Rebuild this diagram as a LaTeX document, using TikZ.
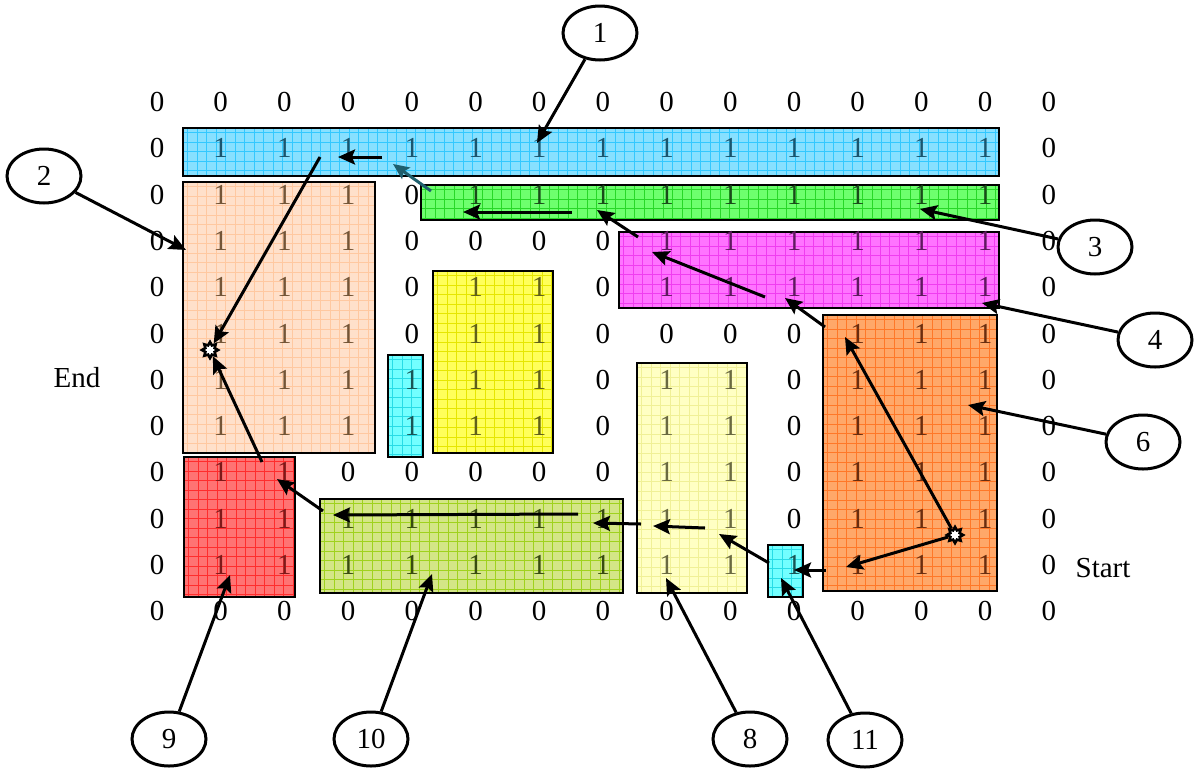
\documentclass[tikz,border=0pt]{standalone}
\usepackage{fontspec}
\setmainfont{Liberation Serif}
\usetikzlibrary{shapes.geometric,arrows.meta}
\definecolor{bluefill}{RGB}{135,224,255}\definecolor{bluegrid}{RGB}{50,200,255}\definecolor{bluetext}{RGB}{25,85,110}
\definecolor{greenfill}{RGB}{110,255,110}\definecolor{greengrid}{RGB}{40,215,40}\definecolor{greentext}{RGB}{25,75,25}
\definecolor{magfill}{RGB}{255,115,255}\definecolor{maggrid}{RGB}{240,60,240}\definecolor{magtext}{RGB}{95,25,95}
\definecolor{peachfill}{RGB}{255,224,202}\definecolor{peachgrid}{RGB}{255,200,160}\definecolor{peachtext}{RGB}{115,85,55}
\definecolor{yelfill}{RGB}{255,255,90}\definecolor{yelgrid}{RGB}{230,230,0}\definecolor{yeltext}{RGB}{95,95,25}
\definecolor{cyanfill}{RGB}{115,255,255}\definecolor{cyangrid}{RGB}{40,220,230}\definecolor{cyantext}{RGB}{25,85,85}
\definecolor{orfill}{RGB}{255,168,105}\definecolor{orgrid}{RGB}{255,120,40}\definecolor{ortext}{RGB}{105,45,15}
\definecolor{lyfill}{RGB}{255,255,195}\definecolor{lygrid}{RGB}{240,240,150}\definecolor{lytext}{RGB}{105,105,65}
\definecolor{redfill}{RGB}{255,115,115}\definecolor{redgrid}{RGB}{255,45,45}\definecolor{redtext}{RGB}{125,25,25}
\definecolor{olfill}{RGB}{212,230,135}\definecolor{olgrid}{RGB}{160,210,30}\definecolor{oltext}{RGB}{55,75,15}
\definecolor{tealarrow}{RGB}{30,95,110}
\tikzset{
 dig/.style={inner sep=0pt, font=\fontsize{29}{30}\selectfont},
 pbox/.style 2 args={draw=black, line width=2.5pt, fill=#1, inner sep=0pt, outer sep=0pt,
   path picture={
   \foreach \gx in {4.75,14.25,...,900} \draw[#2, line width=0.6pt] ([xshift=\gx pt]path picture bounding box.north west) -- ([xshift=\gx pt]path picture bounding box.south west);
   \foreach \gy in {4.75,14.25,...,300} \draw[#2, line width=0.6pt] ([yshift=-\gy pt]path picture bounding box.north west) -- ([yshift=-\gy pt]path picture bounding box.north east);
 }},
 arr/.style={line width=3pt, -{Stealth[length=17pt,width=15pt,inset=3pt]}},
 lead/.style={line width=3pt, -{Stealth[length=17pt,width=15pt,inset=3pt]}},
 circ/.style={ellipse, draw, line width=3pt, minimum width=74pt, minimum height=54pt, inner sep=0pt, font=\fontsize{29}{30}\selectfont},
 starmark/.style={star, star points=8, star point ratio=1.6, minimum size=16pt, inner sep=0pt, fill=white, draw=black, line width=2.6pt},
}
\begin{document}
\begin{tikzpicture}[x=1pt,y=-1pt]
\useasboundingbox (0,0) rectangle (1196,769);
% boxes
\node[pbox={bluefill}{bluegrid}, minimum width=816pt, minimum height=48pt] (b1) at (591,152) {};
\node[pbox={peachfill}{peachgrid}, minimum width=192pt, minimum height=271pt] (b2) at (279,317.5) {};
\node[pbox={greenfill}{greengrid}, minimum width=578pt, minimum height=35pt] (b3) at (710,202.5) {};
\node[pbox={magfill}{maggrid}, minimum width=380pt, minimum height=76pt] (b4) at (809,270) {};
\node[pbox={yelfill}{yelgrid}, minimum width=120pt, minimum height=182pt] (b5) at (493,362) {};
\node[pbox={cyanfill}{cyangrid}, minimum width=35pt, minimum height=102pt] (b7) at (405.5,406) {};
\node[pbox={orfill}{orgrid}, minimum width=174pt, minimum height=276pt] (b6) at (910,453) {};
\node[pbox={lyfill}{lygrid}, minimum width=110pt, minimum height=230pt] (b8) at (692,478) {};
\node[pbox={redfill}{redgrid}, minimum width=111pt, minimum height=140pt] (b9) at (239.5,527) {};
\node[pbox={olfill}{olgrid}, minimum width=303pt, minimum height=94pt] (b10) at (471.5,546) {};
\node[pbox={cyanfill}{cyangrid}, minimum width=35pt, minimum height=52pt] (b11) at (785.5,571) {};
% zeros
\foreach \r in {0,11} \foreach \c in {0,...,14}
  \node[dig] (z-\c-\r) at ({157+63.7*\c},{102+46.3*\r}) {0};
\foreach \c/\r in {0/1,14/1,0/2,4/2,14/2,0/3,4/3,5/3,6/3,7/3,14/3,0/4,4/4,7/4,14/4,
  0/5,4/5,7/5,8/5,9/5,10/5,14/5,0/6,7/6,10/6,14/6,0/7,7/7,10/7,14/7,
  0/8,3/8,4/8,5/8,6/8,7/8,10/8,14/8,0/9,10/9,14/9,0/10,14/10}
  \node[dig] (z-\c-\r) at ({157+63.7*\c},{102+46.3*\r}) {0};
% ones
\foreach \c in {1,...,13} \node[dig,text=bluetext] (o-\c-1) at ({157+63.7*\c},{102+46.3}) {1};
\foreach \c in {1,...,3} \foreach \r in {2,...,7} \node[dig,text=peachtext] (o-\c-\r) at ({157+63.7*\c},{102+46.3*\r}) {1};
\foreach \c in {5,...,13} \node[dig,text=greentext] (o-\c-2) at ({157+63.7*\c},{102+46.3*2}) {1};
\foreach \c in {8,...,13} \foreach \r in {3,4} \node[dig,text=magtext] (o-\c-\r) at ({157+63.7*\c},{102+46.3*\r}) {1};
\foreach \c in {5,6} \foreach \r in {4,...,7} \node[dig,text=yeltext] (o-\c-\r) at ({157+63.7*\c},{102+46.3*\r}) {1};
\foreach \r in {6,7} \node[dig,text=cyantext] (o-4-\r) at ({157+63.7*4},{102+46.3*\r}) {1};
\foreach \c in {11,...,13} \foreach \r in {5,...,10} \node[dig,text=ortext] (o-\c-\r) at ({157+63.7*\c},{102+46.3*\r}) {1};
\foreach \c in {8,9} \foreach \r in {6,...,10} \node[dig,text=lytext] (o-\c-\r) at ({157+63.7*\c},{102+46.3*\r}) {1};
\foreach \c in {1,2} \foreach \r in {8,...,10} \node[dig,text=redtext] (o-\c-\r) at ({157+63.7*\c},{102+46.3*\r}) {1};
\foreach \c in {3,...,7} \foreach \r in {9,10} \node[dig,text=oltext] (o-\c-\r) at ({157+63.7*\c},{102+46.3*\r}) {1};
\node[dig,text=cyantext] (o-10-10) at ({157+63.7*10},{102+46.3*10}) {1};
% labels
\node[dig] (endlbl) at (77,378) {End};
\node[dig] (startlbl) at (1103,568) {Start};
% star markers
\node[starmark] (end) at (210,350) {};
\node[starmark] (start) at (955,535) {};
% arrow coordinates
\coordinate (p1s) at (382,157); \coordinate (p1e) at (338,157);
\coordinate (p2s) at (320,157);
\coordinate (p3s) at (262,462);
\coordinate (p4s) at (323,511); \coordinate (p4e) at (277,479);
\coordinate (p5s) at (578,514); \coordinate (p5e) at (333,515);
\coordinate (p6s) at (641,524); \coordinate (p6e) at (593,523);
\coordinate (p7s) at (705,528); \coordinate (p7e) at (653,526);
\coordinate (p8s) at (769,563); \coordinate (p8e) at (719,534);
\coordinate (p9s) at (826,570); \coordinate (p9e) at (794,570);
\coordinate (p10e) at (846,567);
\coordinate (p11e) at (845,337);
\coordinate (p12s) at (825,327); \coordinate (p12e) at (785,298);
\coordinate (p13s) at (765,297); \coordinate (p13e) at (652,252);
\coordinate (p14s) at (638,237); \coordinate (p14e) at (597,210);
\coordinate (p15s) at (572,212); \coordinate (p15e) at (463,212);
\coordinate (p16s) at (431,191); \coordinate (p16e) at (393,164);
% path arrows
\draw[arr] (start) -- (p10e);
\draw[arr] (start) -- (p11e);
\draw[arr] (p9s) -- (p9e);
\draw[arr] (p8s) -- (p8e);
\draw[arr] (p7s) -- (p7e);
\draw[arr] (p6s) -- (p6e);
\draw[arr] (p5s) -- (p5e);
\draw[arr] (p4s) -- (p4e);
\draw[arr] (p3s) -- (end);
\draw[arr] (p2s) -- (end);
\draw[arr] (p1s) -- (p1e);
\draw[arr] (p12s) -- (p12e);
\draw[arr] (p13s) -- (p13e);
\draw[arr] (p14s) -- (p14e);
\draw[arr] (p15s) -- (p15e);
\draw[line width=3pt, tealarrow, -{Stealth[length=16pt,width=14pt,inset=3pt]}] (p16s) -- (p16e);
% numbered ellipses
\node[circ] (c1) at (600,33) {1};
\node[circ] (c2) at (44,176) {2};
\node[circ] (c3) at (1095,247) {3};
\node[circ] (c4) at (1155,340) {4};
\node[circ] (c6) at (1143,442) {6};
\node[circ] (c9) at (169,739) {9};
\node[circ] (c10) at (371,739) {10};
\node[circ] (c8) at (750,739) {8};
\node[circ] (c11) at (865,740) {11};
\coordinate (t1) at (537,143);
\coordinate (t2) at (186,250);
\coordinate (t3) at (920,209);
\coordinate (t4) at (982,303);
\coordinate (t6) at (968,405);
\coordinate (t9) at (230,575);
\coordinate (t10) at (432,574);
\coordinate (t8) at (666,578);
\coordinate (t11) at (781,578);
\draw[lead] (c1) -- (t1);
\draw[lead] (c2) -- (t2);
\draw[lead] (c3) -- (t3);
\draw[lead] (c4) -- (t4);
\draw[lead] (c6) -- (t6);
\draw[lead] (c9) -- (t9);
\draw[lead] (c10) -- (t10);
\draw[lead] (c8) -- (t8);
\draw[lead] (c11) -- (t11);
\end{tikzpicture}
\end{document}
